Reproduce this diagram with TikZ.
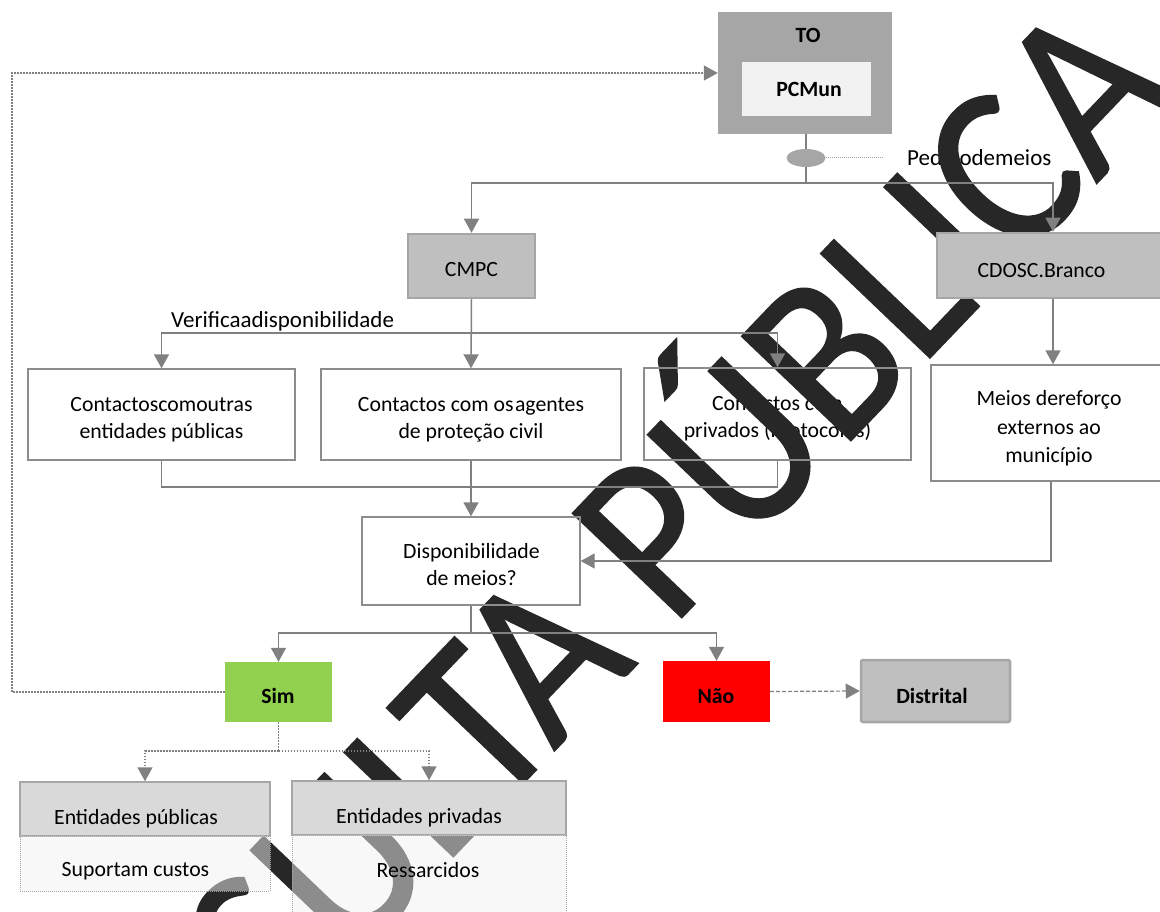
\documentclass[tikz,border=0pt]{standalone}
\usepackage{fontspec}
\setmainfont{Carlito}
\newfontfamily\wmfont{Carlito}[FakeStretch=0.9, FakeBold=0.8]
\usetikzlibrary{arrows.meta,shapes.geometric}

\definecolor{lineg}{HTML}{808080}
\definecolor{borderg}{HTML}{8C8C8C}
\definecolor{darkbox}{HTML}{A6A6A6}
\definecolor{midbox}{HTML}{BFBFBF}
\definecolor{lightbox}{HTML}{F2F2F2}
\definecolor{headbox}{HTML}{D9D9D9}
\definecolor{simgreen}{HTML}{92D050}
\definecolor{naored}{HTML}{FF0000}
\definecolor{wmark}{HTML}{272727}

% body text size and a narrow word space for run-together labels
\newcommand{\txt}{\fontsize{21.75}{26.5}\selectfont}
\newcommand{\bigtxt}{\fontsize{23}{27}\selectfont}
\newcommand{\narrow}[1]{{\spaceskip=1.5pt\relax #1}}

\tikzset{
  conn/.style={draw=lineg, line width=1.5pt},
  arr/.style={-{Triangle[width=15pt,length=14pt]}},
  dots/.style={line width=1.5pt, dash pattern=on 1.5pt off 1.5pt},
  openbox/.style={rectangle, draw=borderg, line width=1.4pt, inner sep=0pt},
  label/.style={inner sep=0pt, align=center, font=\txt},
  boldlabel/.style={inner sep=0pt, font=\txt\bfseries, anchor=base},
  greybox/.style={rectangle, fill=midbox, draw=darkbox, line width=2.5pt, inner sep=0pt},
  headerbox/.style={rectangle, fill=headbox, draw=darkbox, line width=1.5pt, inner sep=0pt},
  bodybox/.style={rectangle, fill=lightbox, fill opacity=0.5, draw=darkbox, line width=1pt,
    dash pattern=on 1pt off 1pt, inner sep=0pt},
  wm/.style={inner sep=0pt, anchor=base east, rotate=46.3, text=wmark,
    font=\wmfont\fontsize{235}{235}\selectfont}
}

\begin{document}
\begin{tikzpicture}[x=1pt,y=-1pt]
\useasboundingbox (0,0) rectangle (1160,912);
\fill[white] (0,0) rectangle (1160,912);

% ---- labels of the open boxes (they sit beneath the watermark)
\node[label, font=\bigtxt, anchor=base west] (ped) at (907,166) {\narrow{Pedido\hspace{-1.5pt} de\hspace{-1.5pt} meios}};
\node[label, font=\bigtxt, anchor=base west] (verif) at (171,327) {\narrow{Verifica\hspace{-1.5pt} a\hspace{-1.5pt} disponibilidade}};
\node[label] (b1t) at (161.5,419.5) {\narrow{Contactos\hspace{-1.5pt} com\hspace{-1.5pt} outras}\\entidades públicas};
\node[label] (b2t) at (471,420) {Contactos com \narrow{os agentes}\\de proteção civil};
\node[label] (b3t) at (777.5,418.5) {Contactos com\\privados (Protocolos)};
\node[label, font=\fontsize{21.75}{28.5}\selectfont] (b4t) at (1049,428.5) {Meios \narrow{de\hspace{-1.5pt} reforço}\\externos ao\\município};
\node[label] (dispt) at (471.5,564.5) {Disponibilidade\\de meios?};

% ---- watermark
\node[wm] (wmk) at (1181,95) {CONSULTA PÚBLICA};

% ---- top: TO / PCMun
\node[rectangle, fill=darkbox, inner sep=0pt, minimum width=174pt, minimum height=122pt] (to) at (805,73) {};
\node[boldlabel] (tot) at (808,43) {TO};
\node[rectangle, fill=lightbox, inner sep=0pt, minimum width=129pt, minimum height=54pt] (pcm) at (806.5,89) {};
\node[boldlabel] (pcmt) at (809,97) {PCMun};

\node[ellipse, fill=darkbox, inner sep=0pt, minimum width=39pt, minimum height=18pt] (ell) at (806,158) {};
\coordinate (pedEnd) at (882,158);
\draw[draw=lineg!70, line width=1pt, dash pattern=on 1pt off 1pt] (ell.east) -- (pedEnd);

% ---- open boxes
\node[openbox, minimum width=267pt, minimum height=91pt] (b1) at (161.5,414.5) {};
\node[openbox, minimum width=300pt, minimum height=91pt] (b2) at (471,414.5) {};
\node[openbox, minimum width=267pt, minimum height=92pt] (b3) at (777.5,414) {};
\node[openbox, minimum width=231pt, minimum height=116pt] (b4) at (1046.5,423) {};
\node[openbox, minimum width=218pt, minimum height=88pt] (disp) at (471,561) {};

% ---- grey boxes
\node[greybox, minimum width=127pt, minimum height=64pt] (cmpc) at (471.5,266) {};
\node[label, anchor=base] (cmpct) at (471.5,277) {CMPC};
\node[greybox, minimum width=225pt, minimum height=65pt] (cdosc) at (1049.5,265.5) {};
\node[label, anchor=base] (cdosct) at (1041.5,278) {CDOSC.Branco};

% ---- decision outcomes
\node[rectangle, fill=simgreen, inner sep=0pt, minimum width=107pt, minimum height=60pt] (sim) at (278.5,692) {};
\node[boldlabel] (simt) at (278,703) {Sim};
\node[rectangle, fill=naored, inner sep=0pt, minimum width=107pt, minimum height=61pt] (nao) at (716.5,691.5) {};
\node[boldlabel] (naot) at (716,703) {Não};
\node[greybox, rounded corners=2pt, minimum width=149pt, minimum height=62pt] (dist) at (935.5,691) {};
\node[boldlabel] (distt) at (932,703) {Distrital};

% ---- cost boxes
\node[headerbox, minimum width=250pt, minimum height=54pt] (ephead) at (145,809) {};
\node[label, anchor=base] (epheadt) at (136,824) {Entidades públicas};
\node[bodybox, minimum width=250pt, minimum height=55pt] (epbody) at (145,863.5) {};
\node[label, anchor=base] (epbodyt) at (135.5,876) {Suportam custos};
\node[headerbox, minimum width=274pt, minimum height=54pt] (prhead) at (429,808) {};
\node[label, anchor=base] (prheadt) at (419,823) {Entidades privadas};
\node[bodybox, minimum width=274pt, minimum height=82pt] (prbody) at (429,876) {};
\node[label, anchor=base] (prbodyt) at (428,877) {Ressarcidos};

% ---- connectors
\coordinate (jT) at (806,183);
\coordinate (jR) at (1053,183);
\draw[conn] (to.south -| ell) -- (ell.north);
\draw[conn] (ell.south) -- (jT);
\draw[conn, arr] (jT) -| (cmpc.north);
\draw[conn, arr] (jT) -| (jR |- cdosc.north);

\coordinate (vL) at (163,333);
\coordinate (vR) at (777.5,333);
\draw[conn, arr] (vR) -| (b1.north);
\draw[conn, arr] (vL) -| (b3.north);
\draw[conn, arr] (cmpc.south) -- (b2.north);
\draw[conn, arr] (jR |- cdosc.south) -- (jR |- b4.north);

\coordinate (mB) at (471,487);
\draw[conn] (b1.south) |- (mB) -| (b3.south);
\draw[conn, arr] (b2.south) -- (disp.north);
\draw[conn, arr] (b4.south -| 1051,0) |- (disp.east);

\coordinate (dB) at (471,633);
\draw[conn] (disp.south) -- (dB);
\draw[conn, arr] (dB) -| (sim.north);
\draw[conn, arr] (dB) -| (nao.north);
\draw[conn, arr, dash pattern=on 4pt off 2pt, line width=1.2pt] (nao.east) -- (dist.west);

\coordinate (lpB) at (12,692);
\coordinate (lpT) at (12,73);
\draw[conn, dots, arr] (sim.west) -- (lpB) -- (lpT) -- (lpT -| to.west);

\coordinate (sB) at (278.5,751);
\draw[conn, dots] (sim.south) -- (sB);
\draw[conn, dots, arr] (sB) -| (ephead.north);
\draw[conn, dots, arr] (sB) -| (prhead.north);
\end{tikzpicture}
\end{document}
